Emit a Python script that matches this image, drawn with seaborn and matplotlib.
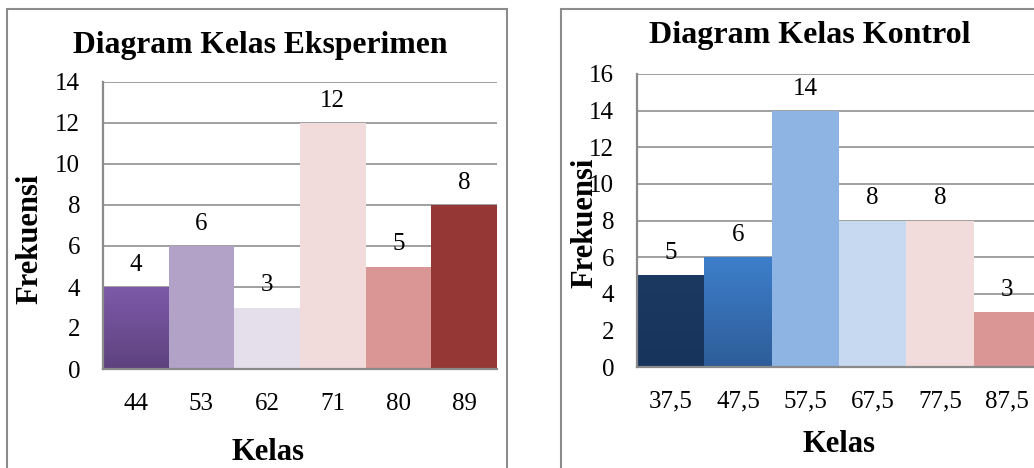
import numpy as np
import matplotlib
matplotlib.use("Agg")
import matplotlib.pyplot as plt
import matplotlib.patches as mpatches
from matplotlib.colors import LinearSegmentedColormap
import seaborn as sns

# data
kelas_eks = ["44", "53", "62", "71", "80", "89"]
frek_eks = [4, 6, 3, 12, 5, 8]
warna_eks = ["#7b58a6", "#b3a2c7", "#e5dfec", "#f2dcdb", "#d99694", "#953735"]

kelas_kon = ["37,5", "47,5", "57,5", "67,5", "77,5", "87,5"]
frek_kon = [5, 6, 14, 8, 8, 3]
warna_kon = ["#1a375f", "#3c7cc9", "#8eb4e3", "#c6d9f1", "#f2dcdb", "#d99694"]

sns.set_style("white")
plt.rcParams["font.family"] = ["Liberation Serif", "DejaVu Serif"]
plt.rcParams["text.color"] = "black"
plt.rcParams["xtick.color"] = "black"
plt.rcParams["ytick.color"] = "black"

fig = plt.figure(figsize=(10.34, 4.68), dpi=100)
W, H = 1034, 468

grid_c = "#868686"


def panel(ax, kelas, frek, warna, ymax, gradients):
    sns.barplot(x=kelas, y=frek, hue=kelas, palette=warna, width=1.0,
                saturation=1, legend=False, ax=ax, zorder=2,
                edgecolor="none", linewidth=0)
    ax.set_ylim(0, ymax)
    ax.set_xlim(-0.5, len(kelas) - 0.5)
    ax.set_yticks(range(0, ymax + 1, 2))
    ax.yaxis.grid(True, color=grid_c, linewidth=1.1, zorder=0)
    ax.set_axisbelow(True)
    ax.tick_params(axis="both", length=0, labelsize=18, colors="black")
    ax.tick_params(axis="x", pad=17)
    ax.tick_params(axis="y", pad=16.5)
    ax.set_xlabel("")
    ax.set_ylabel("")
    for s in ["top", "right"]:
        ax.spines[s].set_visible(False)
    for s in ["left", "bottom"]:
        ax.spines[s].set_color("#8a8a8a")
        ax.spines[s].set_linewidth(1.6)
        ax.spines[s].set_zorder(5)
    for c in ax.containers:
        ax.bar_label(c, padding=8, fontsize=18, color="black")
    # gradient fill for some bars
    for idx, (top_c, bot_c) in gradients.items():
        p = ax.patches[idx]
        x0, y0 = p.get_x(), p.get_y()
        w, h = p.get_width(), p.get_height()
        cmap = LinearSegmentedColormap.from_list("g", [bot_c, top_c])
        grad = np.linspace(0, 1, 100).reshape(-1, 1)
        im = ax.imshow(grad, cmap=cmap, aspect="auto", origin="lower",
                       extent=(x0, x0 + w, y0, y0 + h), zorder=3)
        im.set_clip_path(p)
    ax.set_xlim(-0.5, len(kelas) - 0.5)
    ax.set_ylim(0, ymax)


ax1 = fig.add_axes([103 / W, 1 - 369 / H, 394 / W, (369 - 82) / H])
panel(ax1, kelas_eks, frek_eks, warna_eks, 14,
      {0: ("#7e5aa9", "#5d427e")})

ax2 = fig.add_axes([637 / W, 1 - 367 / H, 404 / W, (367 - 74) / H])
panel(ax2, kelas_kon, frek_kon, warna_kon, 16,
      {0: ("#1b3961", "#17355c"), 1: ("#3d7ecb", "#2e5d99")})

# panel borders
fig.patches.append(mpatches.Rectangle((7 / W, -0.1), 500 / W, 1 - 9 / H + 0.1,
                                      transform=fig.transFigure, fill=False,
                                      edgecolor="#8c8c8c", linewidth=1.5))
fig.patches.append(mpatches.Rectangle((561 / W, -0.1), 600 / W, 1 - 9 / H + 0.1,
                                      transform=fig.transFigure, fill=False,
                                      edgecolor="#8c8c8c", linewidth=1.5))

# titles and axis labels
fig.text(260 / W, 1 - 53 / H, "Diagram Kelas Eksperimen", ha="center",
         va="baseline", fontsize=22.8, fontweight="bold")
fig.text(810 / W, 1 - 43 / H, "Diagram Kelas Kontrol", ha="center",
         va="baseline", fontsize=23, fontweight="bold")
fig.text(268 / W, 1 - 460 / H, "Kelas", ha="center", va="baseline",
         fontsize=22, fontweight="bold")
fig.text(839 / W, 1 - 452 / H, "Kelas", ha="center", va="baseline",
         fontsize=22, fontweight="bold")
fig.text(30 / W, 1 - 239 / H, "Frekuensi", ha="center", va="center",
         rotation=90, fontsize=22, fontweight="bold")
fig.text(585 / W, 1 - 223 / H, "Frekuensi", ha="center", va="center",
         rotation=90, fontsize=22, fontweight="bold")

fig.savefig("out.png", dpi=100)
